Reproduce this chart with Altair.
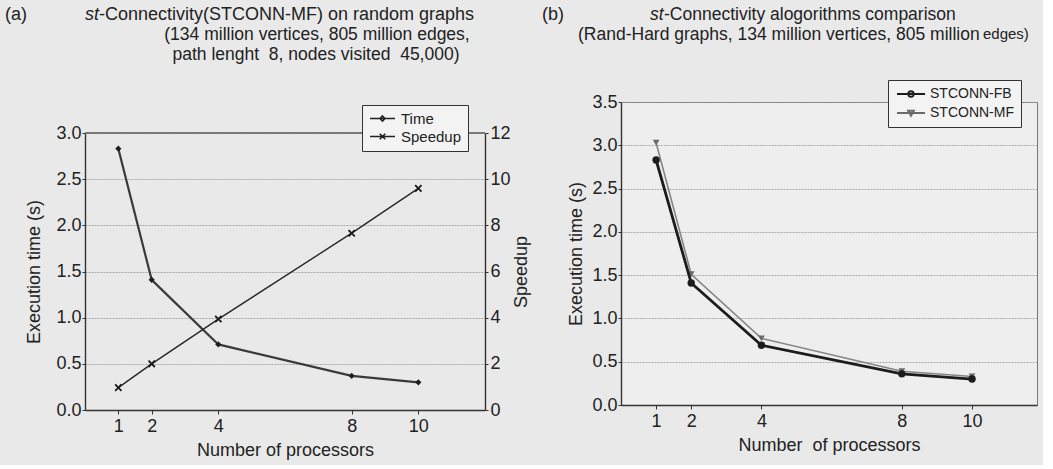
import altair as alt
import pandas as pd

FONT = "Liberation Sans"
INK = "#222222"
NB = "\u00a0"

# ---------------- data ----------------
processors = [1, 2, 4, 8, 10]
# panel (a)
time_mf_a = [2.83, 1.41, 0.71, 0.37, 0.30]
speedup_mf_a = [0.97, 2.0, 3.94, 7.66, 9.6]
# panel (b)
time_fb_b = [2.83, 1.41, 0.69, 0.36, 0.30]
time_mf_b = [3.03, 1.51, 0.77, 0.39, 0.33]

series_a = ["Time", "Speedup"]
series_b = ["STCONN-FB", "STCONN-MF"]

x_ticks = processors
y_ticks_a = [0, 0.5, 1.0, 1.5, 2.0, 2.5, 3.0]
speed_ticks = [0, 2, 4, 6, 8, 10, 12]
y_ticks_b = [0, 0.5, 1.0, 1.5, 2.0, 2.5, 3.0, 3.5]

title_a = ["st", "-Connectivity(STCONN-MF) on random graphs",
           "(134 million vertices, 805 million edges,",
           "path lenght" + NB + NB + "8, nodes visited" + NB + NB + "45,000)"]
title_b = ["st", "-Connectivity alogorithms comparison",
           "(Rand-Hard graphs, 134 million vertices, 805 million", "edges)"]

df_a = pd.DataFrame({"p": processors, "time": time_mf_a, "speedup": speedup_mf_a})
df_b = pd.DataFrame({"p": processors, "fb": time_fb_b, "mf": time_mf_b})

# panel (a) plot is drawn in the lower part of a taller view so both panels
# share the same top origin while their frames start at different heights
W1, H1, TOP1 = 400, 308, 31
W2, H2 = 416, 303


def xenc(title, xmax):
    return alt.X("p:Q", scale=alt.Scale(domain=[0, xmax], nice=False, zero=False),
                 axis=alt.Axis(values=x_ticks, title=title, grid=False, format="d",
                               labelPadding=3, titlePadding=6, tickSize=4))


def text(txt, x, y, size=17.5, style="normal", align="left"):
    return alt.Chart(pd.DataFrame({"t": [txt]})).mark_text(
        align=align, baseline="middle", fontSize=size, fontStyle=style,
        font=FONT, color=INK).encode(text="t:N", x=alt.value(x), y=alt.value(y))


# ---------------- panel (a) ----------------
ya = alt.Y("time:Q", scale=alt.Scale(domain=[0, 3], nice=False, range=[H1, TOP1]),
           axis=alt.Axis(values=y_ticks_a, format=".1f", title="Execution time (s)",
                         grid=True, tickSize=3, labelPadding=1, titlePadding=12))
time_line = alt.Chart(df_a).mark_line(color="#3a3a3a", strokeWidth=2.2).encode(
    x=xenc("Number of processors", 12), y=ya)
time_pts = alt.Chart(df_a).mark_point(shape="diamond", filled=True, size=38,
                                      color="#1e1e1e", opacity=1).encode(
    x="p:Q", y="time:Q")
time_layer = alt.layer(time_line, time_pts)

ys = alt.Y("speedup:Q", scale=alt.Scale(domain=[0, 12], nice=False, range=[H1, TOP1]),
           axis=alt.Axis(orient="right", values=speed_ticks, format="d", title="Speedup",
                         grid=False, tickSize=3, labelPadding=2, titlePadding=20,
                         titleAngle=270))
speed_line = alt.Chart(df_a).mark_line(color="#262626", strokeWidth=1.4).encode(
    x="p:Q", y=ys)
speed_pts = alt.Chart(df_a).mark_point(shape="M-1,-1L1,1M1,-1L-1,1", filled=False,
                                       size=40, strokeWidth=1.8, color="#1a1a1a",
                                       opacity=1).encode(x="p:Q", y="speedup:Q")
speed_layer = alt.layer(speed_line, speed_pts)

top_border = alt.Chart(df_a).mark_rule(color="#777777", strokeWidth=1).encode(
    x=alt.value(0), x2=alt.value(W1), y=alt.value(TOP1))

path_time = "M-2.5,0H2.5M0,-0.5L0.5,0L0,0.5L-0.5,0Z"
path_speed = "M-2.5,0H2.5M-0.55,-0.55L0.55,0.55M0.55,-0.55L-0.55,0.55"
leg_a_props = dict(orient="none", legendX=277, legendY=TOP1 - 28, title=None,
                   symbolSize=100, symbolOffset=7, labelOffset=11, labelFontSize=15,
                   labelFont=FONT, labelColor=INK, rowPadding=2, padding=6,
                   strokeColor="#333333", fillColor="#f3f3f3", symbolStrokeWidth=1.6)
leg_a = alt.Chart(df_a).transform_filter("false").mark_point(
    filled=False, color="#222222", opacity=1).encode(
    shape=alt.Shape("sa:N", scale=alt.Scale(domain=series_a, range=[path_time, path_speed]),
                    legend=alt.Legend(**leg_a_props)))

panel_a = alt.layer(
    top_border, time_layer, speed_layer, leg_a,
    text("(a)", -69, TOP1 - 118, size=18, align="center"),
    text(title_a[0], 0, TOP1 - 118, size=18, style="italic"),
    text(title_a[1], 14, TOP1 - 118, size=18),
    text(title_a[2], 232, TOP1 - 98, align="center"),
    text(title_a[3], 231, TOP1 - 78, align="center"),
).resolve_scale(y="independent").properties(
    width=W1, height=H1,
    view=alt.ViewBackground(stroke="transparent", fill="transparent"))

# ---------------- panel (b) ----------------
ybax = alt.Axis(values=y_ticks_b, format=".1f", title="Execution time (s)",
                grid=True, tickSize=3, labelPadding=1, titlePadding=6)
mf_line = alt.Chart(df_b).mark_line(color="#858585", strokeWidth=1.6).encode(
    x=xenc("Number" + NB + NB + "of processors", 11.85),
    y=alt.Y("mf:Q", scale=alt.Scale(domain=[0, 3.5], nice=False), axis=ybax))
mf_pts = alt.Chart(df_b).mark_point(shape="triangle-down", filled=True, size=45,
                                    color="#6a6a6a", opacity=1).encode(x="p:Q", y="mf:Q")
fb_line = alt.Chart(df_b).mark_line(color="#1c1c1c", strokeWidth=2.8).encode(
    x="p:Q", y="fb:Q")
fb_pts = alt.Chart(df_b).mark_point(shape="circle", filled=True, size=55,
                                    color="#1c1c1c", opacity=1).encode(x="p:Q", y="fb:Q")

path_fb = "M-2.8,0H2.8M0.55,0A0.55,0.55,0,1,1,-0.55,0A0.55,0.55,0,1,1,0.55,0"
path_mf = "M-2.8,0H2.8M-0.6,-0.45L0.6,-0.45L0,0.6Z"
leg_b_props = dict(orient="none", legendX=267, legendY=-22, title=None,
                   symbolSize=100, symbolOffset=9, labelOffset=12, labelFontSize=14,
                   labelFont=FONT, labelColor=INK, rowPadding=5, padding=7,
                   strokeColor="#333333", fillColor="#f3f3f3", symbolStrokeWidth=1.8)
leg_b = alt.Chart(df_b).transform_filter("false").mark_point(filled=False, opacity=1).encode(
    shape=alt.Shape("sb:N", scale=alt.Scale(domain=series_b, range=[path_fb, path_mf]),
                    legend=alt.Legend(**leg_b_props)),
    color=alt.Color("sb:N", scale=alt.Scale(domain=series_b, range=["#1c1c1c", "#6a6a6a"]),
                    legend=alt.Legend(**leg_b_props)))

panel_b = alt.layer(
    mf_line, mf_pts, fb_line, fb_pts, leg_b,
    text("(b)", -68, -87, size=18, align="center"),
    text(title_b[0], 29, -87, size=17.5, style="italic"),
    text(title_b[1], 43, -87, size=17.5),
    text(title_b[2], -43, -67),
    text(title_b[3], 362, -68, size=15),
).properties(width=W2, height=H2,
             view=alt.ViewBackground(stroke="#777777", strokeWidth=1, fill="#eeeeee"))

chart = alt.concat(panel_a, panel_b, columns=2, spacing=10, align="none").resolve_scale(
    shape="independent", color="independent"
).resolve_legend(shape="independent", color="independent").properties(
    background="#e9e9e9", padding={"left": 4, "top": 5, "right": 5, "bottom": 5}
).configure_axis(
    labelFont=FONT, titleFont=FONT, labelFontSize=18, titleFontSize=18,
    labelColor=INK, titleColor=INK, titleFontWeight="normal",
    domainColor="#333333", domainWidth=1.4, tickColor="#333333",
    gridColor="#9a9a9a", gridDash=[2, 1], gridWidth=1, gridOpacity=0.8
)

chart.save("out.html", embed_options={"renderer": "svg", "actions": False})
